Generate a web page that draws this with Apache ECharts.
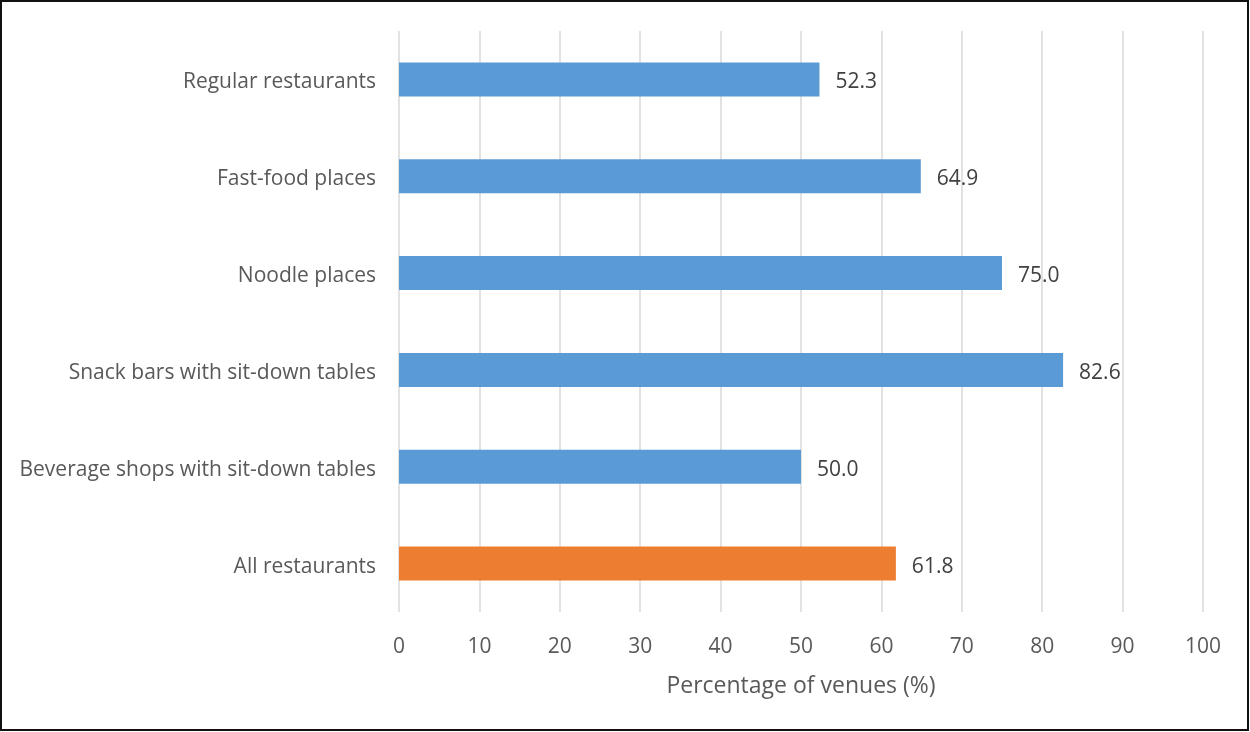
<!DOCTYPE html>
<html>
<head>
<meta charset="utf-8">
<script src="https://cdn.jsdelivr.net/npm/echarts@6/dist/echarts.min.js"></script>
<style>
html,body{margin:0;padding:0;background:#fff;}
#c{width:1250px;height:732px;}
</style>
</head>
<body>
<div id="c"></div>
<script>
const categories = [
  "Regular restaurants",
  "Fast-food places",
  "Noodle places",
  "Snack bars with sit-down tables",
  "Beverage shops with sit-down tables",
  "All restaurants"
];
const values = [52.3, 64.9, 75.0, 82.6, 50.0, 61.8];
const barColors = ["#5b9bd5", "#5b9bd5", "#5b9bd5", "#5b9bd5", "#5b9bd5", "#ed7d31"];
const xTicks = { min: 0, max: 100, interval: 10 };
const xAxisName = "Percentage of venues (%)";

const FONT = "'Open Sans', 'DejaVu Sans', sans-serif";
const chart = echarts.init(document.getElementById('c'), null, { renderer: 'canvas' });
chart.setOption({
  animation: false,
  backgroundColor: '#ffffff',
  textStyle: { fontFamily: FONT },
  graphic: [{
    type: 'rect',
    shape: { x: 1, y: 1, width: 1247, height: 729 },
    style: { fill: 'none', stroke: '#111111', lineWidth: 2 },
    silent: true
  }],
  grid: { left: 399, top: 31, width: 804, height: 581, containLabel: false },
  xAxis: {
    type: 'value',
    min: xTicks.min, max: xTicks.max, interval: xTicks.interval,
    axisLine: { show: false },
    axisTick: { show: false },
    splitLine: { show: true, lineStyle: { color: '#d9d9d9', width: 1.5 } },
    axisLabel: { color: '#595959', fontSize: 21, margin: 25, fontFamily: FONT },
    name: xAxisName,
    nameLocation: 'middle',
    nameGap: 63,
    nameTextStyle: { color: '#595959', fontSize: 23, fontFamily: FONT }
  },
  yAxis: {
    type: 'category',
    inverse: true,
    data: categories,
    axisLine: { show: false },
    axisTick: { show: false },
    splitLine: { show: false },
    axisLabel: { color: '#595959', fontSize: 21, margin: 23, fontFamily: FONT, verticalAlign: 'top', lineHeight: 6 }
  },
  series: [{
    type: 'bar',
    barWidth: 34,
    data: values.map((v, i) => ({ value: v, itemStyle: { color: barColors[i] } })),
    label: {
      show: true,
      position: 'right',
      distance: 16,
      offset: [0, 3],
      color: '#404040',
      fontSize: 21,
      fontFamily: FONT,
      formatter: p => p.value.toFixed(1)
    }
  }]
});
</script>
</body>
</html>
